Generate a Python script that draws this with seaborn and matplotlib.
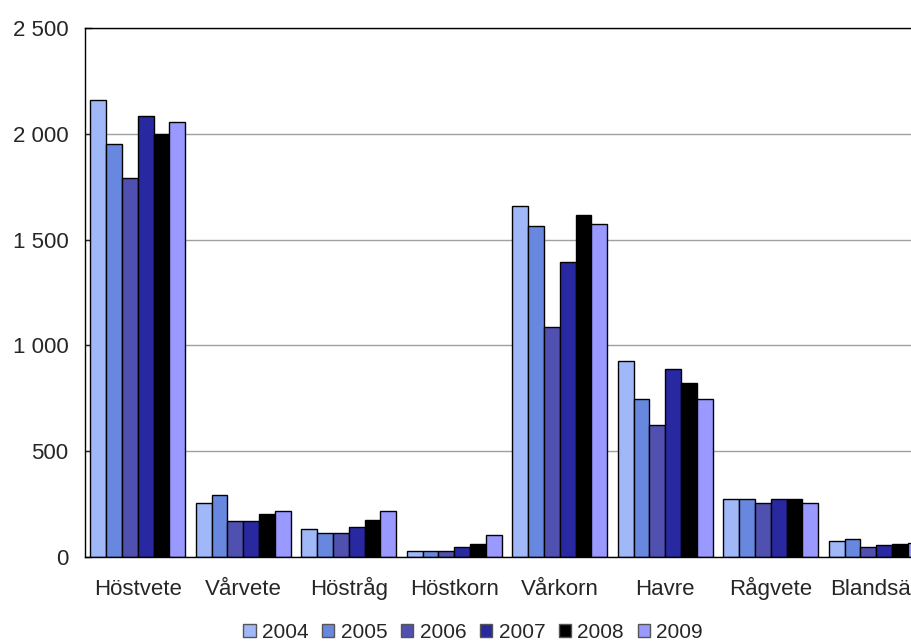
import pandas as pd
import numpy as np
import matplotlib
matplotlib.use('Agg')
import matplotlib.pyplot as plt
import seaborn as sns
from matplotlib.ticker import FuncFormatter

sns.set_style('white')
plt.rcParams['font.family'] = ['Liberation Sans', 'DejaVu Sans']

# ====== data ======
grodor = ['Höstvete', 'Vårvete', 'Höstråg', 'Höstkorn', 'Vårkorn', 'Havre', 'Rågvete', 'Blandsäd']
years = ['2004', '2005', '2006', '2007', '2008', '2009']

v2004 = [2160, 255, 132, 28, 1659, 925, 273, 77]
v2005 = [1952, 292, 113, 28, 1564, 745, 273, 87]
v2006 = [1791, 172, 113, 28, 1087, 622, 255, 47]
v2007 = [2084, 172, 142, 49, 1394, 887, 273, 58]
v2008 = [2001, 202, 173, 60, 1616, 824, 276, 60]
v2009 = [2058, 219, 219, 104, 1574, 745, 255, 68]

farger = ['#A0B8F8', '#6888E0', '#5050B0', '#2828A0', '#000000', '#9999FF']

# long-form tabell
serier = [v2004, v2005, v2006, v2007, v2008, v2009]
rows = []
for yr, vals in zip(years, serier):
    for g, v in zip(grodor, vals):
        rows.append({'Gröda': g, 'År': yr, 'Värde': v})
df = pd.DataFrame(rows)

# ====== figur ======
fig = plt.figure(figsize=(9.11, 6.41), dpi=100)
# axeln går förbi högerkanten (beskuren som i originalet)
ax = fig.add_axes([85 / 911, 84 / 641, 844 / 911, 529 / 641])

sns.barplot(data=df, x='Gröda', y='Värde', hue='År', order=grodor, hue_order=years,
            palette=farger, width=0.9, edgecolor='black', linewidth=1.0,
            saturation=1, ax=ax, legend=True)

ax.set_ylim(0, 2500)
ax.set_yticks(np.arange(0, 2501, 500))
ax.yaxis.set_major_formatter(FuncFormatter(lambda v, p: f'{int(v):,}'.replace(',', ' ')))
ax.grid(axis='y', color='#a0a0a0', linewidth=1.0)
ax.set_axisbelow(True)
ax.set_xlim(-0.5, len(grodor) - 0.5)

for s in ['left', 'top', 'bottom']:
    ax.spines[s].set_visible(True)
    ax.spines[s].set_color('black')
    ax.spines[s].set_linewidth(1.0)
ax.spines['right'].set_visible(False)

ax.tick_params(axis='y', left=True, direction='in', length=5, width=1, labelsize=16, pad=12)
ax.tick_params(axis='x', bottom=False, length=0, labelbottom=False)
ax.set_xlabel('')
ax.set_ylabel('')

# kategorinamn på gemensam baslinje
trans = ax.get_xaxis_transform()
for i, g in enumerate(grodor):
    ax.text(i, -38 / 529, g, transform=trans, ha='center', va='baseline',
            fontsize=16, clip_on=False)

handles, labels = ax.get_legend_handles_labels()
ax.get_legend().remove()
for h in handles:
    h.set_edgecolor('#555555')
fig.legend(handles, labels, loc='center', bbox_to_anchor=(473 / 911, 9 / 641),
           ncol=6, frameon=False, fontsize=15, handlelength=0.6, handleheight=0.6,
           handletextpad=0.3, columnspacing=0.65, borderaxespad=0)

fig.savefig('out.png', dpi=100)
